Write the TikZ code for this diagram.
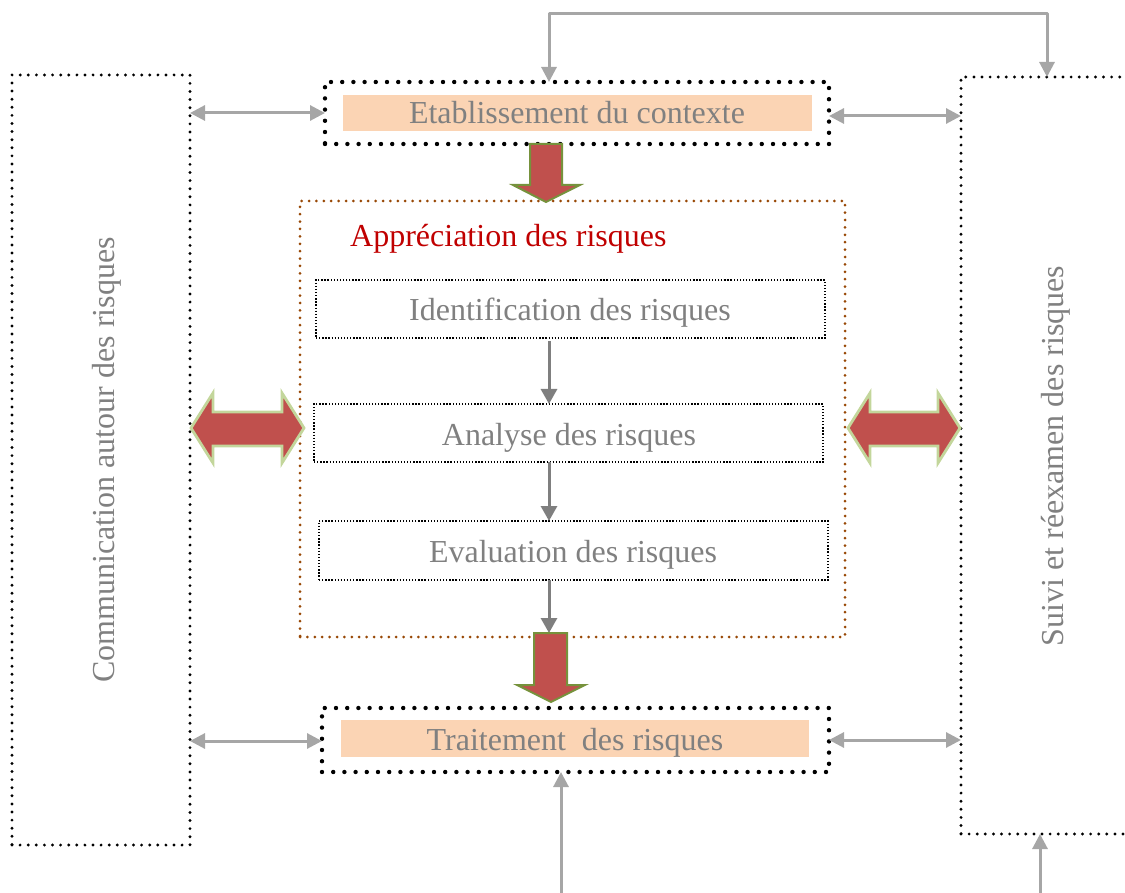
\documentclass[tikz,border=0pt]{standalone}
\usepackage{fontspec}
\setmainfont{Liberation Serif}
\usetikzlibrary{arrows.meta,calc}
\definecolor{txtgray}{HTML}{808080}
\definecolor{argray}{HTML}{A6A6A6}
\definecolor{dkgray}{HTML}{7F7F7F}
\definecolor{peach}{HTML}{FBD4B4}
\definecolor{brownd}{HTML}{984806}
\definecolor{redfill}{HTML}{C0504D}
\definecolor{olivegreen}{HTML}{76923C}
\definecolor{palegreen}{HTML}{C3D69B}
\definecolor{titlered}{HTML}{C00000}
\begin{document}
\begin{tikzpicture}[x=1pt,y=-1pt,
  bigdots/.style={draw=black, line width=4.4pt, line cap=round, dash pattern=on 0pt off 11.2pt},
  sidedots/.style={draw=black, line width=3.2pt, line cap=round, dash pattern=on 0pt off 8.1pt},
  browndots/.style={draw=brownd, line width=3pt, line cap=round, dash pattern=on 0pt off 7.4pt},
  finedots/.style={draw=black, line width=1.3pt, dash pattern=on 1.3pt off 1.8pt},
  boxshape/.style={rectangle, inner sep=0pt, outer sep=0pt},
  peachbar/.style={rectangle, fill=peach, inner sep=0pt, outer sep=0pt},
  lbl/.style={font=\fontsize{32}{38}\selectfont, text=txtgray, text height=22pt, text depth=0pt, inner sep=0pt},
  garrow/.style={draw=argray, line width=3pt, {Triangle[length=15pt,width=15pt]}-{Triangle[length=15pt,width=15pt]}},
  garrowone/.style={draw=argray, line width=3pt, -{Triangle[length=15pt,width=15pt]}},
  darrow/.style={draw=dkgray, line width=3pt, -{Triangle[length=15pt,width=16pt]}},
  reddown/.style={fill=redfill, draw=olivegreen, line width=2pt, line join=miter},
  reddouble/.style={fill=redfill, draw=palegreen, line width=2.8pt, line join=miter}
]
\useasboundingbox (0,0) rectangle (1125,893);
\clip (0,0) rectangle (1125,893);

% side boxes
\node[boxshape, sidedots, minimum width=178pt, minimum height=770pt] (lbox) at (101,460) {};
\node[lbl, rotate=90] (ltext) at (103,460) {Communication autour des risques};
\node[boxshape, sidedots, minimum width=199pt, minimum height=757pt] (rbox) at (1060.5,455.5) {};
\node[lbl, rotate=90] (rtext) at (1052,456) {Suivi et réexamen des risques};

% top box
\node[boxshape, bigdots, minimum width=504pt, minimum height=62pt] (top) at (577,113) {};
\node[peachbar, minimum width=469pt, minimum height=36pt] (topbar) at (577.5,113) {};
\node[lbl] (toptext) at (577,113) {Etablissement du contexte};

% treatment box
\node[boxshape, bigdots, minimum width=507pt, minimum height=64pt] (trt) at (575.5,740) {};
\node[peachbar, minimum width=468pt, minimum height=37pt] (trtbar) at (575,738.5) {};
\node[lbl] (trttext) at (575,739) {Traitement\ \ des risques};

% assessment box
\node[boxshape, browndots, minimum width=545pt, minimum height=436pt] (app) at (572.5,419) {};
\node[anchor=base west, inner sep=0pt, font=\fontsize{32}{38}\selectfont, text=titlered] (apptitle) at (350,247) {Appréciation des risques};

\node[boxshape, finedots, minimum width=509pt, minimum height=58pt] (ident) at (570.5,309) {};
\node[lbl] (identtext) at (570,310) {Identification des risques};
\node[boxshape, finedots, minimum width=509pt, minimum height=58pt] (anal) at (568.5,433) {};
\node[lbl] (analtext) at (569,434) {Analyse des risques};
\node[boxshape, finedots, minimum width=509pt, minimum height=59pt] (eval) at (573.5,550.5) {};
\node[lbl] (evaltext) at (573,551) {Evaluation des risques};

% inner arrows
\coordinate (cx) at (549,0);
\draw[darrow] ([yshift=-3pt]ident.south -| cx) -- (anal.north -| cx);
\draw[darrow] (anal.south -| cx) -- (eval.north -| cx);
\draw[darrow] (eval.south -| cx) -- ([yshift=4pt]app.south -| cx);

% gray side arrows
\draw[garrow] (lbox.east |- top.west) -- (top.west);
\draw[garrow] ([yshift=-3pt]top.east) -- ([yshift=-3pt]rbox.west |- top.east);
\draw[garrow] ([yshift=-1pt]lbox.east |- trt.west) -- ([yshift=-1pt]trt.west);
\draw[garrow] (trt.east) -- (rbox.west |- trt.east);

% feedback arrow on top
\coordinate (ca) at (549,14);
\coordinate (cb) at (1047,14);
\draw[garrow, line join=round] (top.north -| ca) -- (ca) -- (cb) -- (rbox.north -| cb);

% bottom arrows
\coordinate (cc) at (561,900);
\coordinate (cd) at (1040,900);
\draw[garrowone] (cc) -- (trt.south -| cc);
\draw[garrowone] (cd) -- (rbox.south -| cd);

% big red arrows
\draw[reddown] (530,144) -- (562,144) -- (562,185) -- (580,185) -- (546,202) -- (513,185) -- (530,185) -- cycle;
\draw[reddown] (534,633) -- (567,633) -- (567,685) -- (585,685) -- (551,702) -- (517,685) -- (534,685) -- cycle;
\draw[reddouble] (191,428) -- (213,393) -- (213,412) -- (282,412) -- (282,393) -- (304,428) -- (282,463) -- (282,446) -- (213,446) -- (213,463) -- cycle;
\draw[reddouble] (848,428) -- (870,393) -- (870,412) -- (938,412) -- (938,393) -- (960,428) -- (938,463) -- (938,446) -- (870,446) -- (870,463) -- cycle;
\end{tikzpicture}
\end{document}
